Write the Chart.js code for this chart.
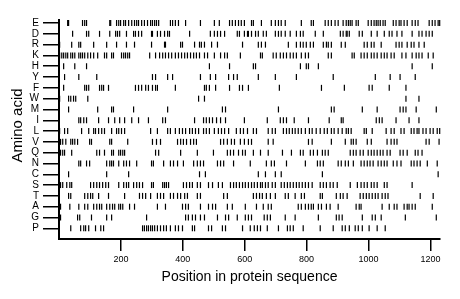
<!DOCTYPE html>
<html>
<head>
<meta charset="utf-8">
<script src="https://cdn.jsdelivr.net/npm/chart.js@4.4.1/dist/chart.umd.min.js"></script>
<style>
  body { margin: 0; background: #fff; }
  #wrap { width: 460px; height: 299px; }
</style>
</head>
<body>
<div id="wrap"><canvas id="myChart" width="460" height="299"></canvas></div>
<script>
// amino acids, top row first
const categories = ["E", "D", "R", "K", "H", "Y", "F", "W", "M", "I", "L", "V", "Q", "N", "C", "S", "T", "A", "G", "P"];
const xTicks = [200, 400, 600, 800, 1000, 1200];
const seqLength = 1231;

// positions of each residue in the sequence
const posE = [28, 31, 76, 83, 89, 164, 167, 186, 193, 199, 209, 215, 225, 235, 244, 251, 257, 267, 276, 286, 296, 302, 309, 315, 322, 360, 367, 376, 386, 409, 457, 502, 518, 551, 560, 570, 580, 589, 599, 622, 628, 654, 686, 699, 709, 718, 731, 783, 815, 822, 860, 870, 880, 892, 902, 918, 928, 935, 941, 947, 960, 967, 999, 1009, 1018, 1025, 1031, 1038, 1047, 1054, 1080, 1089, 1099, 1105, 1115, 1125, 1141, 1151, 1160, 1196, 1206, 1215, 1225, 1230];
const posD = [44, 89, 96, 131, 164, 183, 189, 196, 218, 241, 247, 257, 267, 299, 302, 318, 328, 341, 351, 357, 422, 489, 502, 512, 522, 535, 576, 583, 599, 609, 612, 622, 635, 644, 660, 670, 699, 709, 718, 731, 747, 767, 780, 789, 828, 854, 909, 918, 928, 931, 938, 970, 980, 1009, 1028, 1051, 1067, 1076, 1092, 1108, 1141, 1163, 1173, 1186, 1196, 1206];
const posR = [2, 41, 64, 70, 112, 154, 186, 218, 244, 299, 341, 344, 393, 399, 438, 454, 460, 470, 493, 512, 593, 644, 654, 667, 741, 767, 780, 789, 799, 812, 822, 854, 864, 870, 880, 912, 925, 986, 996, 1009, 1018, 1041, 1089, 1099, 1108, 1125, 1138, 1147, 1163, 1180];
const posK = [1, 2, 9, 15, 22, 28, 38, 44, 51, 64, 70, 76, 83, 93, 102, 112, 125, 147, 154, 170, 176, 202, 209, 215, 222, 228, 293, 312, 325, 335, 344, 354, 364, 376, 386, 396, 406, 415, 425, 435, 444, 454, 470, 480, 502, 522, 535, 544, 586, 651, 657, 692, 702, 715, 725, 735, 747, 757, 767, 783, 796, 806, 870, 880, 947, 954, 976, 986, 996, 1009, 1018, 1028, 1041, 1051, 1060, 1073, 1083, 1108, 1121, 1141, 1154, 1163, 1173, 1193, 1209];
const posH = [15, 51, 89, 486, 551, 628, 635, 780, 799, 806, 838, 1141, 1206];
const posY = [18, 64, 122, 302, 312, 351, 367, 457, 489, 506, 548, 564, 576, 644, 699, 767, 886, 1022, 1070, 1102, 1151];
const posF = [15, 83, 89, 96, 131, 138, 144, 160, 247, 257, 267, 280, 289, 302, 312, 318, 376, 470, 476, 486, 506, 551, 583, 593, 612, 712, 848, 922, 1002, 1012, 1067, 1121];
const posW = [2, 31, 38, 47, 54, 93, 451, 470, 1121, 1163];
const posM = [31, 125, 170, 176, 241, 351, 528, 538, 709, 880, 889, 980, 1028, 1102, 1112, 1121, 1154, 1219];
const posI = [64, 70, 80, 89, 128, 160, 180, 196, 212, 235, 257, 289, 335, 344, 438, 467, 476, 486, 496, 509, 522, 538, 599, 673, 715, 725, 735, 760, 806, 873, 912, 918, 1025, 1035, 1044, 1089, 1131, 1163];
const posL = [2, 18, 28, 73, 96, 112, 118, 128, 138, 147, 170, 186, 193, 202, 212, 296, 318, 351, 360, 376, 389, 399, 409, 422, 431, 441, 451, 467, 476, 486, 502, 515, 525, 535, 548, 573, 586, 596, 609, 628, 638, 676, 689, 699, 725, 735, 744, 754, 763, 773, 783, 796, 809, 818, 831, 844, 857, 867, 880, 889, 902, 915, 928, 935, 944, 986, 993, 1012, 1057, 1073, 1083, 1105, 1115, 1138, 1147, 1157, 1163, 1176, 1186, 1199, 1209, 1222, 1230];
const posV = [1, 5, 12, 22, 38, 44, 51, 60, 99, 105, 164, 170, 222, 302, 315, 328, 383, 393, 402, 412, 425, 435, 444, 522, 532, 544, 557, 567, 586, 599, 612, 622, 676, 692, 806, 818, 880, 925, 944, 951, 960, 996, 1009, 1060, 1073, 1083, 1092, 1186, 1196, 1228];
const posQ = [1, 5, 12, 18, 41, 122, 131, 147, 170, 176, 193, 199, 206, 212, 312, 322, 393, 447, 499, 544, 554, 564, 580, 593, 602, 628, 651, 676, 722, 751, 780, 789, 812, 822, 835, 851, 860, 870, 941, 951, 960, 973, 983, 999, 1009, 1018, 1028, 1038, 1047, 1060, 1070, 1102, 1112, 1125, 1151, 1160, 1173];
const posN = [64, 70, 89, 99, 154, 164, 170, 176, 193, 209, 218, 228, 251, 299, 305, 338, 360, 370, 383, 402, 435, 447, 457, 467, 512, 522, 532, 564, 618, 670, 686, 696, 735, 796, 835, 844, 854, 902, 912, 925, 935, 951, 976, 986, 996, 1005, 1015, 1031, 1041, 1051, 1060, 1080, 1092, 1105, 1138, 1147, 1157, 1167, 1190, 1222];
const posC = [31, 154, 225, 454, 473, 644, 667, 699, 718, 851, 1225];
const posS = [1, 5, 12, 25, 35, 41, 102, 112, 122, 131, 141, 151, 160, 193, 209, 218, 225, 241, 251, 260, 270, 299, 305, 335, 341, 347, 354, 402, 412, 422, 431, 447, 457, 483, 496, 515, 528, 554, 564, 573, 583, 593, 602, 612, 622, 631, 641, 651, 657, 667, 676, 689, 699, 718, 728, 738, 747, 757, 767, 776, 786, 796, 806, 818, 844, 854, 864, 876, 886, 899, 941, 964, 976, 986, 996, 1009, 1018, 1028, 1051, 1060, 1141];
const posT = [31, 38, 83, 93, 102, 109, 128, 160, 212, 260, 270, 280, 296, 318, 328, 338, 360, 370, 383, 393, 406, 415, 447, 457, 532, 544, 628, 638, 648, 657, 670, 683, 699, 731, 741, 763, 783, 793, 844, 851, 896, 909, 918, 931, 973, 983, 993, 1002, 1012, 1022, 1031, 1044, 1054, 1063, 1167, 1209];
const posA = [1, 5, 35, 64, 83, 93, 112, 122, 131, 138, 154, 164, 173, 180, 193, 199, 206, 228, 244, 318, 344, 399, 409, 418, 457, 483, 496, 506, 544, 560, 602, 638, 660, 676, 686, 773, 783, 796, 806, 815, 822, 838, 848, 864, 876, 902, 960, 970, 976, 1044, 1067, 1083, 1092, 1115, 1125, 1131, 1141, 1151, 1206];
const posG = [5, 60, 67, 105, 154, 170, 283, 409, 418, 431, 441, 457, 470, 512, 538, 548, 576, 602, 612, 622, 663, 673, 683, 731, 763, 838, 896, 905, 915, 980, 1012, 1022, 1041, 1119, 1219];
const posP = [38, 70, 80, 86, 96, 118, 135, 144, 270, 276, 283, 289, 296, 302, 309, 318, 328, 338, 347, 360, 376, 386, 399, 431, 438, 483, 493, 528, 538, 593, 618, 631, 641, 651, 673, 709, 738, 747, 757, 789, 844, 886, 915, 925, 938, 957, 967, 980, 1002, 1028, 1054];

const positions = [posE, posD, posR, posK, posH, posY, posF, posW, posM, posI, posL, posV, posQ, posN, posC, posS, posT, posA, posG, posP];

const fontFamily = "'Liberation Sans', Arial, sans-serif";

// one dataset per amino acid, every residue drawn as a short vertical line
const datasets = categories.map((aa, i) => ({
    label: aa,
    data: positions[i].map(p => ({ x: p, y: i })),
    pointStyle: "line",
    pointRotation: 90,
    pointRadius: 3,
    pointBorderWidth: 1.2,
    pointBorderColor: "#000",
    pointBackgroundColor: "#000",
    clip: false
}));

// y title drawn by hand, it sits a bit above the middle of the axis
const yTitle = {
    id: "yTitle",
    afterDraw(chart) {
        const c = chart.ctx;
        c.save();
        c.translate(17.5, 125.5);
        c.rotate(-Math.PI / 2);
        c.font = "15px " + fontFamily;
        c.fillStyle = "#000";
        c.textAlign = "center";
        c.textBaseline = "middle";
        c.fillText("Amino acid", 0, 0);
        c.restore();
    }
};

const ctx = document.getElementById("myChart").getContext("2d");

const chart = new Chart(ctx, {
    type: "scatter",
    data: { datasets: datasets },
    plugins: [yTitle],
    options: {
        responsive: false,
        animation: false,
        events: [],
        layout: { padding: { top: 20, right: 20, bottom: 0, left: 0 } },
        plugins: {
            legend: { display: false },
            tooltip: { enabled: false }
        },
        scales: {
            x: {
                type: "linear",
                min: 0,
                max: seqLength,
                afterBuildTicks: (scale) => {
                    scale.ticks = xTicks.map(v => ({ value: v }));
                },
                afterFit: (scale) => { scale.height = 60; },
                grid: { drawOnChartArea: false, drawTicks: true, tickLength: 12, color: "#000", lineWidth: 1.5 },
                border: { display: true, color: "#000", width: 2 },
                ticks: {
                    color: "#000",
                    autoSkip: false,
                    maxRotation: 0,
                    padding: 3,
                    font: { family: fontFamily, size: 9 },
                    callback: (value) => String(value)
                },
                title: {
                    display: true,
                    text: "Position in protein sequence",
                    color: "#000",
                    font: { family: fontFamily, size: 14 },
                    padding: { top: 0, bottom: 13 }
                }
            },
            y: {
                type: "linear",
                reverse: true,
                min: -0.28,
                max: 19.99,
                afterBuildTicks: (scale) => {
                    scale.ticks = categories.map((c, i) => ({ value: i }));
                },
                afterFit: (scale) => { scale.width = 59; },
                grid: { drawOnChartArea: false, drawTicks: true, tickLength: 16, color: "#000", lineWidth: 1.5 },
                border: { display: true, color: "#000", width: 2 },
                ticks: {
                    color: "#000",
                    autoSkip: false,
                    padding: 4,
                    font: { family: fontFamily, size: 10 },
                    callback: (value) => categories[value]
                },
                title: { display: false }
            }
        }
    }
});
</script>
</body>
</html>
